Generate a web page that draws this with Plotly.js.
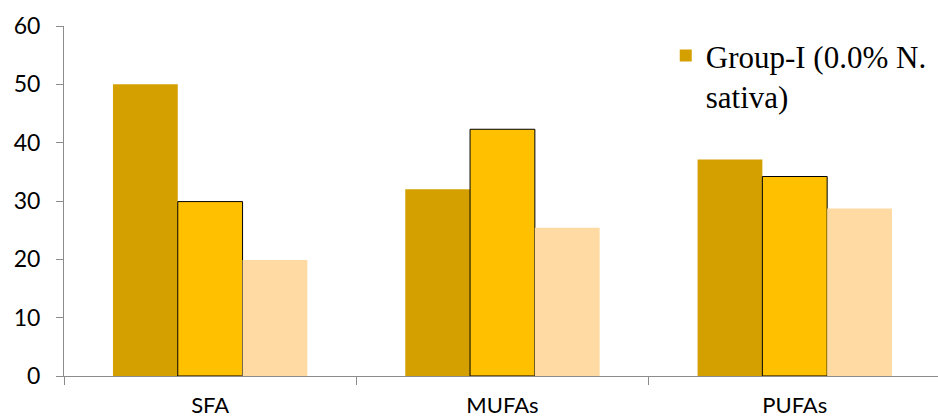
<!DOCTYPE html>
<html>
<head>
<meta charset="utf-8">
<script src="https://cdn.plot.ly/plotly-3.0.1.min.js"></script>
<style>html,body{margin:0;padding:0;background:#fff;}#chart{width:938px;height:420px;}</style>
</head>
<body>
<div id="chart"></div>
<script>
var categories = ["SFA", "MUFAs", "PUFAs"];
var groupI = [50.0, 32.0, 37.1];
var groupII = [29.9, 42.3, 34.2];
var groupIII = [19.9, 25.4, 28.7];
var seriesNames = ["Group-I (0.0% N.<br>sativa)", "Group-II", "Group-III"];
var yTicks = [0, 10, 20, 30, 40, 50, 60];

var traces = [
  {type: "bar", x: categories, y: groupI, name: seriesNames[0],
   marker: {color: "#D4A000", line: {width: 0}}, showlegend: true},
  {type: "bar", x: categories, y: groupII, name: seriesNames[1],
   marker: {color: "#FFC000", line: {color: "#000000", width: 1}}, showlegend: false},
  {type: "bar", x: categories, y: groupIII, name: seriesNames[2],
   marker: {color: "#FFDAA3", line: {width: 0}}, showlegend: false}
];

var layout = {
  width: 938, height: 420,
  margin: {l: 64, r: 0, t: 26, b: 44, pad: 0},
  paper_bgcolor: "#ffffff", plot_bgcolor: "#ffffff",
  barmode: "group", bargap: 0.335, bargroupgap: 0,
  font: {family: "Lato, sans-serif", size: 22, color: "#000000"},
  xaxis: {
    type: "category", range: [-0.5, 2.49],
    showline: true, linecolor: "#8c8c8c", linewidth: 1,
    ticks: "outside", tickson: "boundaries", ticklen: 8, tickcolor: "#8c8c8c",
    ticklabelstandoff: 10,
    showgrid: false, zeroline: false,
    tickfont: {family: "Lato, sans-serif", size: 22, color: "#000000"}
  },
  yaxis: {
    range: [0, 60], tickvals: yTicks,
    showline: true, linecolor: "#8c8c8c", linewidth: 1,
    ticks: "outside", ticklen: 7, tickcolor: "#8c8c8c",
    ticklabelstandoff: 11,
    showgrid: false, zeroline: false,
    tickfont: {family: "Lato, sans-serif", size: 23, color: "#000000"}
  },
  showlegend: true,
  legend: {
    x: 0.6885, y: 0.992, xanchor: "left", yanchor: "top", valign: "top",
    bgcolor: "rgba(0,0,0,0)", borderwidth: 0,
    font: {family: "Liberation Serif, Times New Roman, serif", size: 31, color: "#000000"}
  }
};

Plotly.newPlot("chart", traces, layout, {displayModeBar: false, staticPlot: true});
</script>
</body>
</html>
